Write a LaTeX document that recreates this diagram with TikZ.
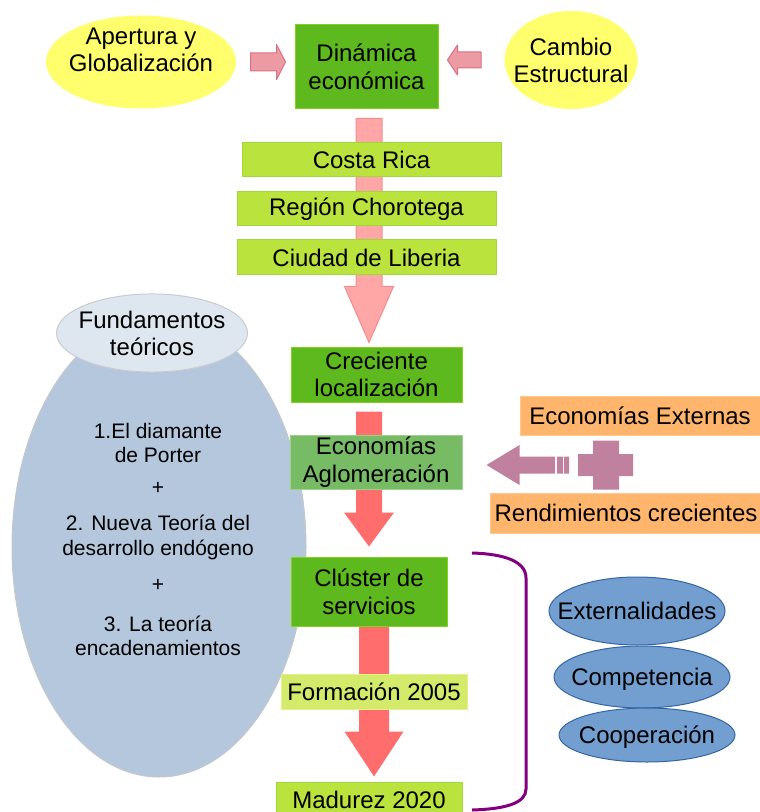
\documentclass[tikz,border=0pt]{standalone}
\usepackage{fontspec}
\setmainfont{Liberation Sans}
\usetikzlibrary{calc,shapes.geometric,backgrounds}
\definecolor{cYel}{HTML}{FFFF6D}
\definecolor{cGreen}{HTML}{5EB91E}
\definecolor{cGreenb}{HTML}{81D41A}
\definecolor{cLime}{HTML}{BBE33D}
\definecolor{cLimeb}{HTML}{9ED83A}
\definecolor{cLimel}{HTML}{D4EA6B}
\definecolor{cLimelb}{HTML}{E2F08E}
\definecolor{cAglom}{HTML}{77BC65}
\definecolor{cAglomb}{HTML}{9CD08C}
\definecolor{cOrange}{HTML}{FFB66C}
\definecolor{cOrangeb}{HTML}{FFC88E}
\definecolor{cPinkA}{HTML}{FFA6A6}
\definecolor{cPinkAb}{HTML}{F58C8C}
\definecolor{cRed}{HTML}{FF6D6D}
\definecolor{cPinkS}{HTML}{EC9BA4}
\definecolor{cPinkSb}{HTML}{DB7080}
\definecolor{cPurp}{HTML}{BF819E}
\definecolor{cBlue}{HTML}{729FCF}
\definecolor{cBlueb}{HTML}{3465A4}
\definecolor{cSteel}{HTML}{B4C7DC}
\definecolor{cSteelb}{HTML}{C3C7CC}
\definecolor{cSteell}{HTML}{DEE6EF}
\definecolor{cSteellb}{HTML}{C8CCD0}
\definecolor{cBrace}{HTML}{800080}
% block arrows: style, tail, tip, shaft half width, head half width, head length/offset
\newcommand\vblock[6]{\path[#1] ($(#2)+(-#4,0)$) -- ($(#2)+(#4,0)$) -- ($(#3)+(#4,-#6)$) -- ($(#3)+(#5,-#6)$) -- (#3) -- ($(#3)+(-#5,-#6)$) -- ($(#3)+(-#4,-#6)$) -- cycle;}
\newcommand\hblock[6]{\path[#1] ($(#2)+(0,-#4)$) -- ($(#3)+(#6,-#4)$) -- ($(#3)+(#6,-#5)$) -- (#3) -- ($(#3)+(#6,#5)$) -- ($(#3)+(#6,#4)$) -- ($(#2)+(0,#4)$) -- cycle;}
\newcommand\zw[1]{\makebox[0pt]{\raisebox{-2.5pt}[\height][\depth]{\begin{tabular}{@{}c@{}}#1\end{tabular}}}}
\begin{document}
\begin{tikzpicture}[x=0.75pt,y=-0.75pt,line join=round,
	font=\fontsize{18}{20.7}\selectfont,
	wh/.style 2 args={minimum width=#1*0.75pt,minimum height=#2*0.75pt},
	box/.style={rectangle,inner sep=0pt,align=center,line width=0.75pt},
	oval/.style={ellipse,inner sep=0pt,line width=0.75pt},
	greenbox/.style={box,fill=cGreen,draw=cGreenb},
	limebox/.style={box,fill=cLime,draw=cLimeb},
	orangebox/.style={box,fill=cOrange,draw=cOrangeb},
	blueoval/.style={oval,wh={176}{#1},fill=cBlue,draw=cBlueb},
	pinkA/.style={fill=cPinkA,draw=cPinkAb,line width=0.75pt},
	pinkS/.style={fill=cPinkS,draw=cPinkSb,line width=0.75pt},
	redA/.style={fill=cRed},
	purpA/.style={fill=cPurp},
	clusterbrace/.style={draw=cBrace,line width=2.25pt}]
	\useasboundingbox (0,0) rectangle (759,812);
	% fundamentos teoricos
	\node[oval,wh={294}{460},fill=cSteel,draw=cSteelb] (fund) at (159,547) {};
	\node[oval,wh={191}{78},fill=cSteell,draw=cSteellb] (fundT) at (152,333) {\zw{Fundamentos\\teóricos}};
	\node[align=center,anchor=north,inner sep=0pt,font=\fontsize{15.75}{18.1}\selectfont] (teoria) at (158,423)
		{1.El diamante\\de Porter\\[6pt]+\\[9pt]2. Nueva Teoría del\\desarrollo endógeno\\[9pt]+\\[12pt]3. La teoría\\encadenamientos};
	% top row
	\node[oval,wh={190}{93},fill=cYel] (apert) at (141,62) {};
	\node[align=center,inner sep=0pt] (apertT) at (141,50) {Apertura y\\Globalización};
	\node[oval,wh={133}{98},fill=cYel] (cam) at (571,60) {\zw{Cambio\\Estructural}};
	\node[greenbox,wh={143}{84}] (dyn) at (366.5,67) {Dinámica\\económica};
	% main column
	\node[limebox,wh={259}{34}] (cr) at (371.5,160) {Costa Rica};
	\node[limebox,wh={259}{34}] (reg) at (366.5,209) {Región Chorotega};
	\node[limebox,wh={259}{35}] (lib) at (366.5,257.5) {Ciudad de Liberia};
	\node[greenbox,wh={171}{55}] (cre) at (376.5,374.5) {Creciente\\localización};
	\node[box,wh={172}{54},fill=cAglom,draw=cAglomb] (eco) at (376,462) {Economías\\Aglomeración};
	\node[greenbox,wh={156}{69}] (clu) at (369,591.5) {Clúster de\\servicios};
	\node[box,wh={186}{35},fill=cLimel,draw=cLimelb] (form) at (374,691.5) {Formación 2005};
	\node[limebox,wh={186}{36}] (mad) at (369,800) {Madurez 2020};
	% right side
	\node[orangebox,wh={240}{39}] (ext) at (640,415.5) {Economías Externas};
	\node[orangebox,wh={271}{40}] (ren) at (626,513) {Rendimientos crecientes};
	\node[blueoval=68] (exter) at (637,611) {\zw{Externalidades}};
	\node[blueoval=62] (comp) at (642,677) {\zw{Competencia}};
	\node[blueoval=54] (coop) at (647,735) {\zw{Cooperación}};
	% down arrows behind the boxes
	\begin{pgfonlayer}{background}
		\coordinate (p1) at ($(dyn.south)+(2.5,9)$);
		\coordinate (t1) at ($(p1 |- cre.north)+(0,-4)$);
		\vblock{pinkA}{p1}{t1}{13}{24.5}{56}
		\coordinate (p2) at ($(p1 |- cre.south)+(0,9)$);
		\coordinate (t2) at (p1 |- eco.center);
		\vblock{redA}{p2}{t2}{13}{25}{20}
		\coordinate (p3) at (p1 |- eco.center);
		\coordinate (t3) at ($(p1 |- clu.north)+(0,-10)$);
		\vblock{redA}{p3}{t3}{13}{25}{34}
		\coordinate (p4) at ($(clu.center)+(5,0)$);
		\coordinate (t4) at ($(p4 |- mad.north)+(0,-5)$);
		\vblock{redA}{p4}{t4}{15}{29.5}{45}
	\end{pgfonlayer}
	% side arrows
	\coordinate (h1) at ($(apert.east)+(14,0)$);
	\coordinate (k1) at ($(h1 -| dyn.west)+(-9,0)$);
	\hblock{pinkS}{h1}{k1}{9}{17.5}{-9}
	\coordinate (h2) at ($(cam.west)+(-23,0)$);
	\coordinate (k2) at ($(h2 -| dyn.east)+(9,0)$);
	\hblock{pinkS}{h2}{k2}{8}{15}{10}
	% plus sign
	\coordinate (plus) at (606,465);
	\coordinate (h3) at ($(plus)+(-51,0)$);
	\coordinate (k3) at ($(plus -| eco.east)+(24,0)$);
	\hblock{purpA}{h3}{k3}{8.5}{20}{33}
	\fill[cPurp] ($(plus)+(-49,-8.5)$) rectangle ($(plus)+(-43,8.5)$)
		($(plus)+(-42,-8.5)$) rectangle ($(plus)+(-37,8.5)$)
		($(plus)+(-13,-24.5)$) rectangle ($(plus)+(13,24.5)$)
		($(plus)+(-28,-11)$) rectangle ($(plus)+(27,11)$);
	% bracket round the cluster
	\draw[clusterbrace] (472,553) .. controls (506,554) and (526,562) .. (526,578) -- (526,789)
		.. controls (526,803) and (506,809) .. (472,810);
\end{tikzpicture}
\end{document}
